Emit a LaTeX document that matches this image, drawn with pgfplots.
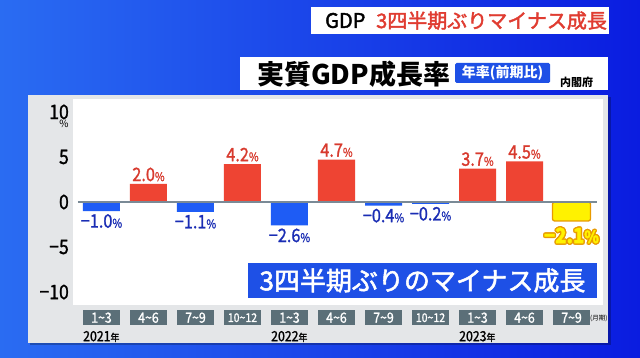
\documentclass[border=0pt]{standalone}
\usepackage{pgfplots}
\pgfplotsset{compat=1.18}
\usepackage{fontspec}
\setmainfont{Noto Sans CJK JP}
\newfontfamily\numf{Noto Sans CJK JP}[FakeStretch=0.88, FakeBold=1.2]
\newfontfamily\medf{Noto Sans CJK JP}[FakeBold=2]
\definecolor{bgL}{HTML}{2A6CF2}
\definecolor{bgR}{HTML}{0A1CE0}
\definecolor{panel}{HTML}{E4E6E8}
\definecolor{barred}{HTML}{EE4433}
\definecolor{barblue}{HTML}{1E5CF5}
\definecolor{labred}{HTML}{D83A2E}
\definecolor{labblue}{HTML}{1A2DB4}
\definecolor{ticbox}{HTML}{5B6F78}
\definecolor{annblue}{HTML}{1E50E6}
\definecolor{zeroln}{HTML}{7A8A96}
\definecolor{titlered}{HTML}{E03C31}
\definecolor{orng}{HTML}{E89A00}
\definecolor{yel}{HTML}{FFF200}
\newcommand{\pct}{{\fontsize{12}{12}\selectfont\%}}
\newcommand{\lab}{\numf\fontsize{18.5}{18.5}\selectfont}
\newcommand{\ylab}{\numf\bfseries\fontsize{21}{21}\selectfont}
\newcommand{\ypct}{{\fontsize{17}{17}\selectfont\%}}
\begin{document}
\begin{tikzpicture}
\begin{scope}[x=1pt,y=-1pt]
\useasboundingbox (0,0) rectangle (640,358);
\shade[left color=bgL, right color=bgR] (0,0) rectangle (640,358);
\fill[black,opacity=0.25] (30,97) rectangle (611,345);
\fill[panel] (28,95) rectangle (608,343);
\fill[white] (73,99) rectangle (603,305);
% title 1
\fill[white] (311,7) rectangle (609,34);
\node[anchor=west, font=\medf\fontsize{20}{20}\selectfont, inner sep=0pt] at (325,20.5) {GDP};
\node[anchor=west, font=\medf\fontsize{20}{20}\selectfont, inner sep=0pt, text=titlered] at (376,20.5) {3四半期ぶりマイナス成長};
% title 2
\fill[white] (240,57) rectangle (608,90);
\node[anchor=west, font=\fontsize{27}{27}\selectfont\bfseries, inner sep=0pt] at (257,74) {実質GDP成長率};
\fill[annblue, rounded corners=1.5pt] (455,63) rectangle (550,83);
\node[font=\fontsize{14}{14}\selectfont\bfseries, text=white, inner sep=0pt] at (502.5,73) {年率(前期比)};
\node[font=\fontsize{11}{11}\selectfont\bfseries, inner sep=0pt, anchor=west] at (560,82) {内閣府};
% y unit
\node[font=\fontsize{10}{10}\selectfont, inner sep=0pt] at (64,123.5) {\%};
% years
\node[anchor=west, font=\numf\fontsize{14}{14}\selectfont, inner sep=0pt] at (83,336.5) {2021{\fontsize{10}{10}\selectfont 年}};
\node[anchor=west, font=\numf\fontsize{14}{14}\selectfont, inner sep=0pt] at (271,336.5) {2022{\fontsize{10}{10}\selectfont 年}};
\node[anchor=west, font=\numf\fontsize{14}{14}\selectfont, inner sep=0pt] at (459,336.5) {2023{\fontsize{10}{10}\selectfont 年}};
\node[anchor=west, font=\fontsize{6.5}{6.5}\selectfont, inner sep=0pt] at (590,318) {(月期)};
% annotation
\fill[annblue] (248,263) rectangle (597,298);
\node[font=\medf\fontsize{26}{26}\selectfont, text=white, inner sep=0pt] at (422.5,280.5) {3四半期ぶりのマイナス成長};
\end{scope}
\begin{axis}[
  at={(73pt,-305pt)}, anchor=south west,
  width=530pt, height=206pt, scale only axis,
  xmin=-0.606, xmax=10.67, ymin=-11.44, ymax=11.44,
  axis line style={draw=none}, tick style={draw=none},
  ytick={-10,-5,0,5,10}, yticklabels={−10,−5,0,5,10},
  yticklabel style={font=\numf\fontsize{20}{20}\selectfont, text=black, anchor=east, inner sep=0pt, xshift=-4pt},
  xtick={0,...,10},
  xticklabels={1\textasciitilde 3,4\textasciitilde 6,7\textasciitilde 9,{\fontsize{12}{12}\selectfont 10\textasciitilde 12},1\textasciitilde 3,4\textasciitilde 6,7\textasciitilde 9,{\fontsize{12}{12}\selectfont 10\textasciitilde 12},1\textasciitilde 3,4\textasciitilde 6,7\textasciitilde 9},
  xticklabel style={font=\numf\fontsize{14}{14}\selectfont, text=white, fill=ticbox, minimum width=37pt, minimum height=15pt, inner sep=0pt, anchor=north, yshift=-5pt},
  clip=false,
]
\addplot[ybar, bar width=37pt, fill=barred, draw=none, point meta=explicit symbolic,
  nodes near coords={\pgfplotspointmeta\pct},
  every node near coord/.append style={text=labred, font=\lab, anchor=south, inner sep=2.5pt}]
  coordinates {(1,2.0)[2.0] (3,4.2)[4.2] (5,4.7)[4.7] (8,3.7)[3.7] (9,4.5)[4.5]};
\addplot[ybar, bar width=37pt, fill=barblue, draw=none, point meta=explicit symbolic,
  nodes near coords={\pgfplotspointmeta\pct},
  every node near coord/.append style={text=labblue, font=\lab, anchor=north, inner sep=3pt}]
  coordinates {(0,-1.0)[−1.0] (2,-1.1)[−1.1] (4,-2.6)[−2.6] (6,-0.4)[−0.4] (7,-0.2)[−0.2]};
\addplot[ybar, bar width=38pt, fill=yel, draw=orng, line width=1.3pt, rounded corners=2pt]
  coordinates {(10,-2.1)};
\draw[zeroln, line width=2pt] (axis cs:-0.5,0) -- (axis cs:10.54,0);
\node[anchor=north, font=\ylab, text=orng, xshift=1.4pt] at (axis cs:10,-2.45) {−2.1\ypct};
\node[anchor=north, font=\ylab, text=orng, xshift=-1.4pt] at (axis cs:10,-2.45) {−2.1\ypct};
\node[anchor=north, font=\ylab, text=orng, yshift=1.4pt] at (axis cs:10,-2.45) {−2.1\ypct};
\node[anchor=north, font=\ylab, text=orng, yshift=-1.4pt] at (axis cs:10,-2.45) {−2.1\ypct};
\node[anchor=north, font=\ylab, text=orng, xshift=1pt, yshift=1pt] at (axis cs:10,-2.45) {−2.1\ypct};
\node[anchor=north, font=\ylab, text=orng, xshift=-1pt, yshift=1pt] at (axis cs:10,-2.45) {−2.1\ypct};
\node[anchor=north, font=\ylab, text=orng, xshift=1pt, yshift=-1pt] at (axis cs:10,-2.45) {−2.1\ypct};
\node[anchor=north, font=\ylab, text=orng, xshift=-1pt, yshift=-1pt] at (axis cs:10,-2.45) {−2.1\ypct};
\node[anchor=north, font=\ylab, text=yel] at (axis cs:10,-2.45) {−2.1\ypct};
\end{axis}
\end{tikzpicture}
\end{document}
